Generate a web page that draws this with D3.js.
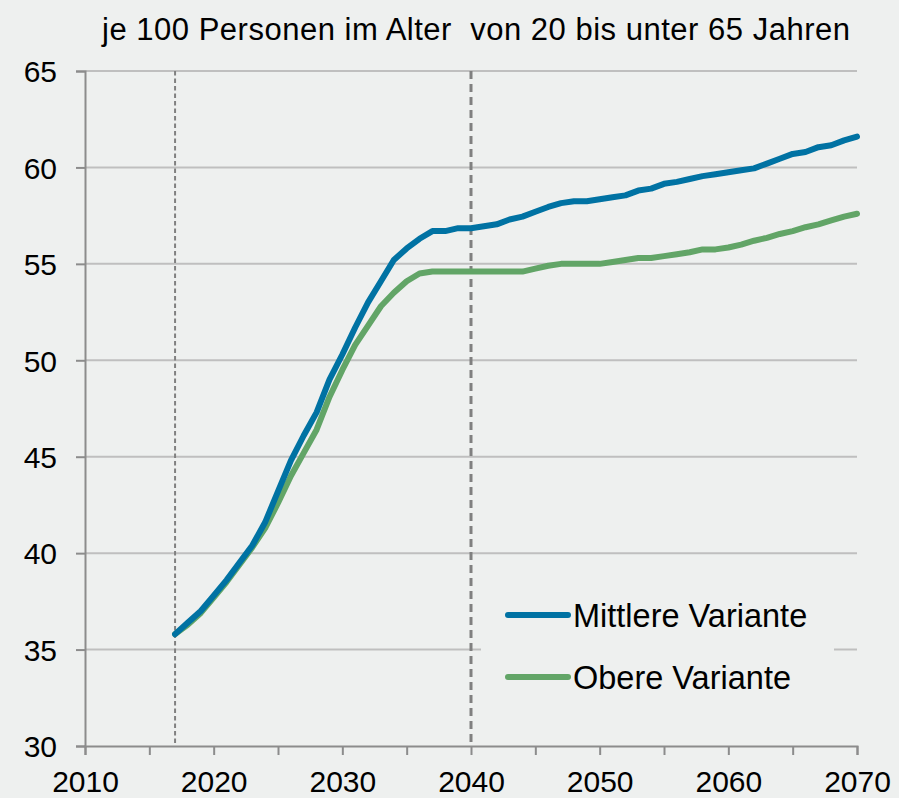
<!DOCTYPE html>
<html>
<head>
<meta charset="utf-8">
<script src="https://cdn.jsdelivr.net/npm/d3@7"></script>
<style>
  html, body { margin: 0; padding: 0; background: #eef0ef; }
  svg { display: block; font-family: "Liberation Sans", Arial, sans-serif; }
</style>
</head>
<body>
<div id="chart"></div>
<script>
const years = d3.range(2017, 2071);

// je 100 Personen 20-64, mittlere Variante
const mittlere = [
  35.8, 36.4, 37.0, 37.8, 38.6, 39.5, 40.4, 41.6, 43.2, 44.8,
  46.1, 47.3, 49.0, 50.3, 51.7, 53.0, 54.1, 55.2, 55.8, 56.3,
  56.7, 56.7, 56.85, 56.85, 56.95, 57.05, 57.3, 57.45, 57.7, 57.95,
  58.15, 58.25, 58.25, 58.35, 58.45, 58.55, 58.8, 58.9, 59.15, 59.25,
  59.4, 59.55, 59.65, 59.75, 59.85, 59.95, 60.2, 60.45, 60.7, 60.8,
  61.05, 61.15, 61.4, 61.6
];

// obere Variante
const obere = [
  35.8, 36.3, 36.9, 37.7, 38.5, 39.4, 40.3, 41.3, 42.6, 44.0,
  45.2, 46.4, 48.1, 49.5, 50.8, 51.8, 52.8, 53.5, 54.1, 54.5,
  54.6, 54.6, 54.6, 54.6, 54.6, 54.6, 54.6, 54.6, 54.75, 54.9,
  55.0, 55.0, 55.0, 55.0, 55.1, 55.2, 55.3, 55.3, 55.4, 55.5,
  55.6, 55.75, 55.75, 55.85, 56.0, 56.2, 56.35, 56.55, 56.7, 56.9,
  57.05, 57.25, 57.45, 57.6
];

const seriesNames = ["Mittlere Variante", "Obere Variante"];
const seriesColors = ["#0072a3", "#62a567"];
const yTicks = [30, 35, 40, 45, 50, 55, 60, 65];
const xLabelTicks = [2010, 2020, 2030, 2040, 2050, 2060, 2070];
const xMinorTicks = d3.range(2010, 2071, 5);
const markerYears = [2017, 2040];
const title = "je 100 Personen im Alter\u00a0 von 20 bis unter 65 Jahren";

const width = 899;
const height = 798;
const margin = { top: 71, right: 42, bottom: 52, left: 85 };
const fontSize = 30;

const svg = d3
  .select("#chart")
  .append("svg")
  .attr("width", width)
  .attr("height", height)
  .attr("viewBox", `0 0 ${width} ${height}`);

svg.append("rect")
  .attr("width", width)
  .attr("height", height)
  .attr("fill", "#eef0ef");

const x = d3.scaleLinear()
  .domain([2010, 2070])
  .range([margin.left, width - margin.right]);

const y = d3.scaleLinear()
  .domain([30, 65])
  .range([height - margin.bottom, margin.top]);

// gridlines
svg.append("g")
  .attr("class", "grid")
  .selectAll("line")
  .data(yTicks.slice(1))
  .enter()
  .append("line")
  .attr("x1", x(2010))
  .attr("x2", x(2070))
  .attr("y1", (d) => y(d))
  .attr("y2", (d) => y(d))
  .attr("stroke", "#bfbfbf")
  .attr("stroke-width", 2);

// vertical marker lines (2017 = base year, 2040)
svg.append("g")
  .selectAll("line")
  .data(markerYears)
  .enter()
  .append("line")
  .attr("x1", (d) => x(d))
  .attr("x2", (d) => x(d))
  .attr("y1", y(65))
  .attr("y2", y(30))
  .attr("stroke", "#808080")
  .attr("stroke-width", (d, i) => (i === 0 ? 2 : 3))
  .attr("stroke-dasharray", (d, i) => (i === 0 ? "4.5,3" : "8,5"));

// y axis
const yAxis = svg.append("g")
  .attr("transform", `translate(${x(2010)},0)`)
  .call(d3.axisLeft(y).tickValues(yTicks).tickSize(9).tickPadding(19));

// x axis: minor ticks every 5 years, labels every 10
const xAxis = svg.append("g")
  .attr("transform", `translate(0,${y(30)})`)
  .call(
    d3.axisBottom(x)
      .tickValues(xMinorTicks)
      .tickSize(9)
      .tickPadding(8)
      .tickFormat((d) => (xLabelTicks.includes(d) ? d3.format("d")(d) : ""))
  );

[yAxis, xAxis].forEach((ax) => {
  ax.select(".domain").attr("stroke", "#8c8c8c").attr("stroke-width", 2);
  ax.selectAll(".tick line").attr("stroke", "#8c8c8c").attr("stroke-width", 2);
  ax.selectAll(".tick text")
    .attr("fill", "#000")
    .style("font-family", "'Liberation Sans', Arial, sans-serif")
    .style("font-size", fontSize + "px");
});
yAxis.selectAll(".tick text").attr("dy", "0.36em");
xAxis.selectAll(".tick text").attr("dy", "0.95em");

// series lines
const line = d3.line()
  .x((d, i) => x(years[i]))
  .y((d) => y(d));

svg.append("g")
  .selectAll("path")
  .data([obere, mittlere])
  .enter()
  .append("path")
  .attr("d", (d) => line(d))
  .attr("fill", "none")
  .attr("stroke", (d, i) => (i === 0 ? seriesColors[1] : seriesColors[0]))
  .attr("stroke-width", 6)
  .attr("stroke-linejoin", "round")
  .attr("stroke-linecap", "round");

// legend
const legend = svg.append("g").attr("transform", "translate(481,585)");
legend.append("rect")
  .attr("width", 353)
  .attr("height", 122)
  .attr("fill", "#eef0ef");

const item = legend.selectAll("g.item")
  .data(seriesNames)
  .enter()
  .append("g")
  .attr("class", "item")
  .attr("transform", (d, i) => `translate(0,${30 + i * 62})`);

item.append("line")
  .attr("x1", 27)
  .attr("x2", 87)
  .attr("stroke", (d, i) => seriesColors[i])
  .attr("stroke-width", 6)
  .attr("stroke-linecap", "round");

item.append("text")
  .attr("x", 92)
  .attr("dy", "0.36em")
  .style("font-size", "32.5px")
  .attr("fill", "#000")
  .text((d) => d);

// title
svg.append("text")
  .attr("x", 102)
  .attr("y", 40)
  .style("font-size", "31px")
  .attr("textLength", 748)
  .attr("lengthAdjust", "spacing")
  .attr("fill", "#000")
  .text(title);
</script>
</body>
</html>
